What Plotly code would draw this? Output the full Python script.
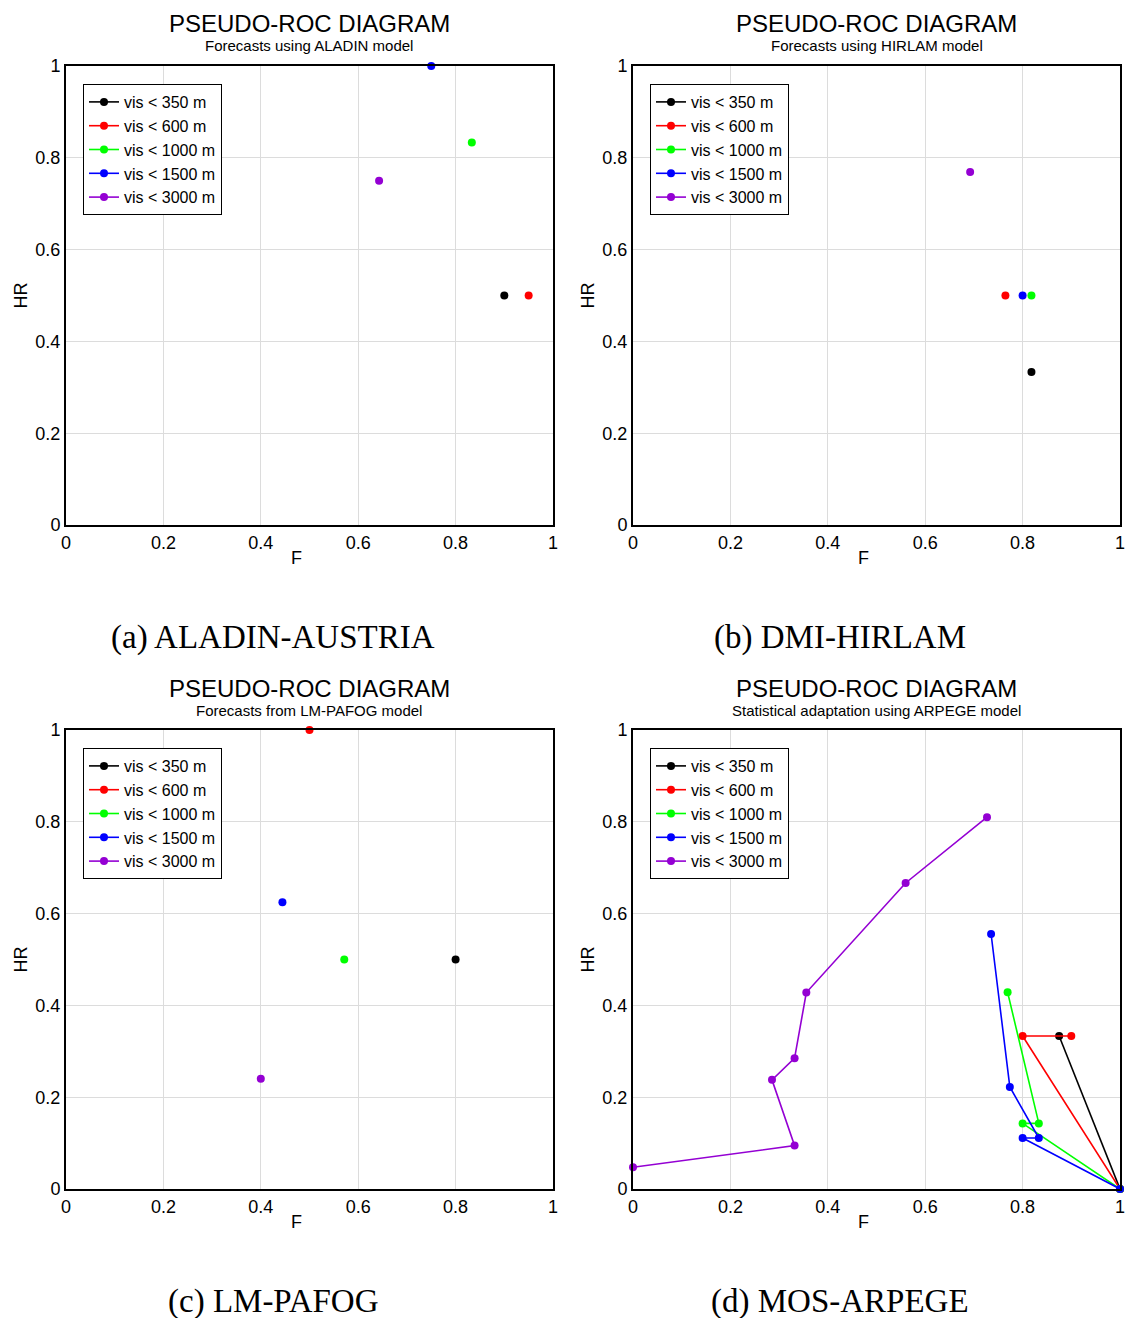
import plotly.graph_objects as go

W, H = 1125, 1318

labels = ["vis < 350 m", "vis < 600 m", "vis < 1000 m", "vis < 1500 m", "vis < 3000 m"]
colors = ["#000000", "#ff0000", "#00ff00", "#0000ff", "#9400d3"]

# (a) ALADIN-AUSTRIA : one point per threshold
a_F = [[0.90], [0.95], [0.8333], [0.75], [0.6429]]
a_HR = [[0.50], [0.50], [0.8333], [1.0], [0.75]]

# (b) DMI-HIRLAM
b_F = [[0.8182], [0.7647], [0.8182], [0.80], [0.6923]]
b_HR = [[0.3333], [0.50], [0.50], [0.50], [0.7692]]

# (c) LM-PAFOG
c_F = [[0.80], [0.50], [0.5714], [0.4444], [0.40]]
c_HR = [[0.50], [1.0], [0.50], [0.625], [0.24]]

# (d) MOS-ARPEGE : curves
d_F = [
    [0.875, 1.0],
    [0.90, 0.80, 1.0],
    [0.7692, 0.8333, 0.80, 1.0],
    [0.7353, 0.7738, 0.8333, 0.80, 1.0],
    [0.7269, 0.5598, 0.3559, 0.3318, 0.2854, 0.3318, 0.0],
]
d_HR = [
    [0.3333, 0.0],
    [0.3333, 0.3333, 0.0],
    [0.4286, 0.1429, 0.1429, 0.0],
    [0.5556, 0.2222, 0.1111, 0.1111, 0.0],
    [0.81, 0.6667, 0.428, 0.285, 0.2378, 0.0945, 0.0473],
]

subtitles = [
    "Forecasts using ALADIN model",
    "Forecasts using HIRLAM model",
    "Forecasts from LM-PAFOG model",
    "Statistical adaptation using ARPEGE model",
]
captions = ["(a) ALADIN-AUSTRIA", "(b) DMI-HIRLAM", "(c) LM-PAFOG", "(d) MOS-ARPEGE"]
ticks = [0, 0.2, 0.4, 0.6, 0.8, 1]
tick_text = ["0", "0.2", "0.4", "0.6", "0.8", "1"]


def px(x):
    return x / W


def py(y):
    return 1 - y / H


# pixel boxes of the four plot areas: (left, right, top, bottom)
boxes = [(66, 553, 66, 525), (633, 1120, 66, 525),
         (66, 553, 730, 1189), (633, 1120, 730, 1189)]
cap_x = [273, 840, 273, 840]
cap_y = [637, 637, 1301, 1301]

fig = go.Figure()
panels = [(a_F, a_HR), (b_F, b_HR), (c_F, c_HR), (d_F, d_HR)]
annotations = []


def note(text, x, y, size, angle=0, family=None):
    f = dict(size=size, color="black")
    if family:
        f["family"] = family
    return dict(text=text, x=px(x), y=py(y), xref="paper", yref="paper",
                xanchor="center", yanchor="middle", showarrow=False,
                textangle=angle, font=f)


for i, (Fs, HRs) in enumerate(panels):
    n = "" if i == 0 else str(i + 1)
    leg = "legend" if i == 0 else f"legend{i + 1}"
    for k in range(5):
        fig.add_trace(go.Scatter(
            x=Fs[k], y=HRs[k], mode="lines+markers", name=labels[k],
            line=dict(color=colors[k], width=1.6),
            marker=dict(color=colors[k], size=8),
            xaxis="x" + n, yaxis="y" + n, legend=leg, cliponaxis=False,
        ))
    l, r, t, b = boxes[i]
    common = dict(range=[0, 1], tickvals=ticks, ticktext=tick_text,
                  showgrid=True, gridcolor="#dcdcdc", gridwidth=1, zeroline=False,
                  showline=True, linecolor="black", linewidth=2, mirror=True,
                  ticks="", ticklabeloverflow="allow",
                  tickfont=dict(size=18, color="black"))
    fig.update_layout(**{
        "xaxis" + n: dict(common, domain=[px(l), px(r)], anchor="y" + n),
        "yaxis" + n: dict(common, domain=[py(b), py(t)], anchor="x" + n),
    })
    fig.update_layout(**{leg: dict(
        x=px(l + 17), y=py(t + 18), xanchor="left", yanchor="top",
        bgcolor="white", bordercolor="black", borderwidth=1,
        font=dict(family="Liberation Sans, Arial", size=16, color="black"),
        tracegroupgap=0, itemwidth=30)})
    cx = (l + r) / 2
    annotations += [
        note("PSEUDO-ROC DIAGRAM", cx, t - 42, 24),
        note(subtitles[i], cx, t - 20, 15),
        note("HR", l - 46, (t + b) / 2, 18, angle=-90),
        note("F", l + 230, b + 33, 18),
        note(captions[i], cap_x[i], cap_y[i], 33,
             family="Liberation Serif, DejaVu Serif, serif"),
    ]

fig.update_layout(
    width=W, height=H, margin=dict(l=0, r=0, t=0, b=0, autoexpand=False),
    paper_bgcolor="white", plot_bgcolor="white",
    font=dict(family="Liberation Sans, Arial, sans-serif", color="black"),
    annotations=annotations,
)

# drop the default page margin so the figure sits at the window's corner
fig.write_html("out.html", config={"displayModeBar": False},
               post_script="document.body.style.margin='0';")
